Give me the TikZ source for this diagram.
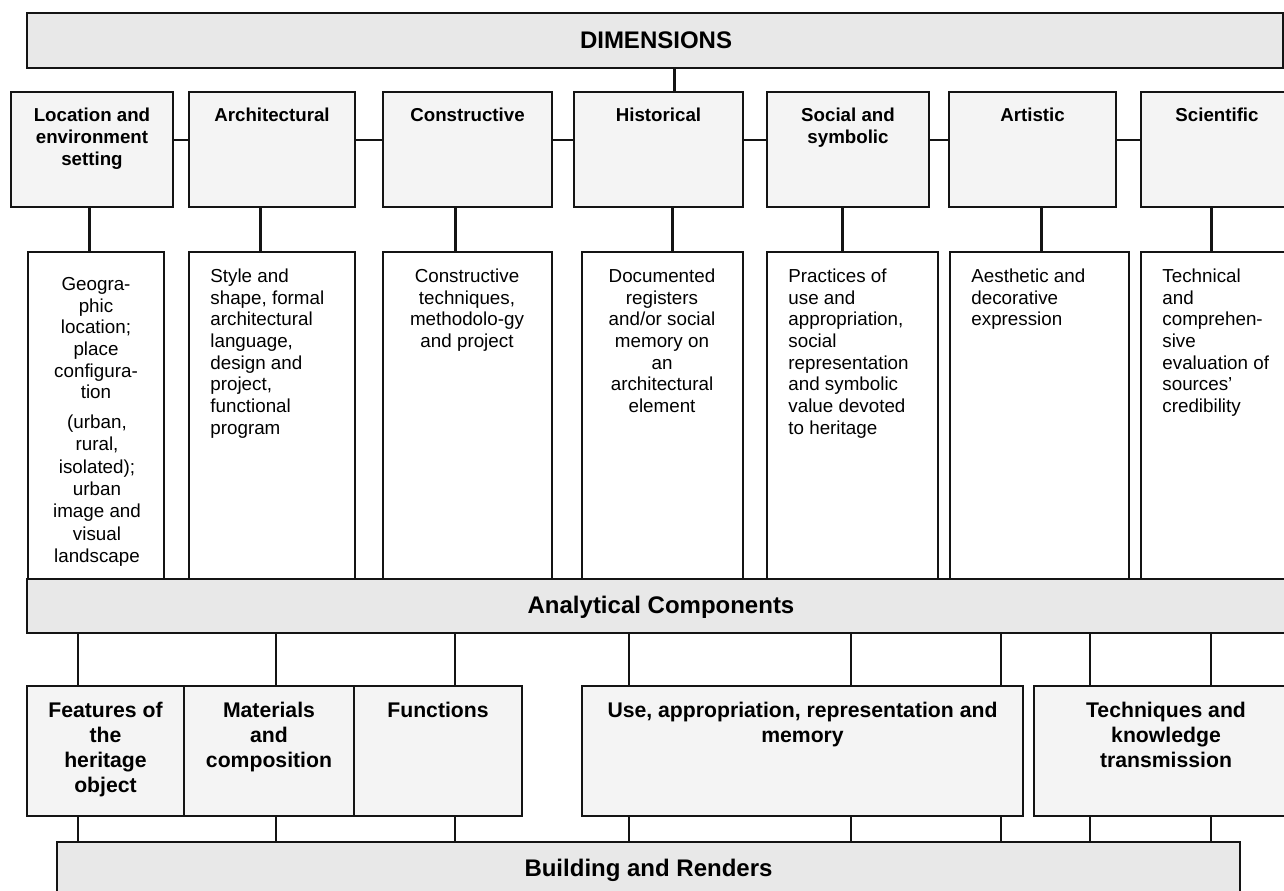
\documentclass[tikz,border=0pt]{standalone}
\usepackage{fontspec}
\setmainfont{Liberation Sans}
\usetikzlibrary{fit}
\definecolor{bandgray}{RGB}{232,232,232}
\definecolor{boxgray}{RGB}{244,244,244}
\definecolor{linecol}{RGB}{20,20,20}
\newcommand\mkbox[6]{\path (#2,#3) coordinate (#1-a) (#4,#5) coordinate (#1-b);
  \node[fit=(#1-a)(#1-b), inner sep=0pt, #6] (#1) {};}
\tikzset{
 band/.style={draw=linecol, line width=0.75pt, fill=bandgray},
 dimbox/.style={draw=linecol, line width=0.75pt, fill=boxgray},
 txtbox/.style={draw=linecol, line width=0.75pt, fill=white},
 lowbox/.style={draw=linecol, line width=0.75pt, fill=boxgray},
 bigtxt/.style={font=\bfseries\fontsize{12}{14}\selectfont, inner sep=0pt, anchor=base},
 dimtxt/.style={font=\bfseries\fontsize{9.35}{11}\selectfont, inner sep=0pt, align=center, anchor=north},
 bodyc/.style={font=\fontsize{9.4}{10.85}\selectfont, inner sep=0pt, align=center, anchor=north},
 bodycb/.style={font=\fontsize{9.4}{11.2}\selectfont, inner sep=0pt, align=center, anchor=north},
 bodyl/.style={font=\fontsize{9.4}{10.85}\selectfont, inner sep=0pt, align=left, anchor=north west},
 lowtxt/.style={font=\bfseries\fontsize{10.6}{12.5}\selectfont, inner sep=0pt, align=center, anchor=north},
 thickcon/.style={draw=linecol, line width=1.5pt},
 thincon/.style={draw=linecol, line width=0.6pt},
 midcon/.style={draw=linecol, line width=0.9pt},
}
\begin{document}
\begin{tikzpicture}[x=0.5pt,y=-0.5pt]
\useasboundingbox (0,0) rectangle (1284,890);
\clip (0,0) rectangle (1284,890);
% boxes
\mkbox{D}{27}{13}{1283}{68}{band}
\mkbox{D1}{11}{92}{173}{207}{dimbox}
\mkbox{D2}{189}{92}{355}{207}{dimbox}
\mkbox{D3}{383}{92}{552}{207}{dimbox}
\mkbox{D4}{574}{92}{743}{207}{dimbox}
\mkbox{D5}{767}{92}{929}{207}{dimbox}
\mkbox{D6}{949}{92}{1116}{207}{dimbox}
\mkbox{D7}{1141}{92}{1293}{207}{dimbox}
\mkbox{T1}{28}{252}{164}{579}{txtbox}
\mkbox{T2}{189}{252}{355}{579}{txtbox}
\mkbox{T3}{383}{252}{552}{579}{txtbox}
\mkbox{T4}{582}{252}{743}{579}{txtbox}
\mkbox{T5}{767}{252}{938}{579}{txtbox}
\mkbox{T6}{950}{252}{1129}{579}{txtbox}
\mkbox{T7}{1141}{252}{1293}{579}{txtbox}
\mkbox{A}{27}{579}{1293}{633}{band}
\mkbox{F}{27}{686}{184}{816}{lowbox}
\mkbox{M}{184}{686}{354}{816}{lowbox}
\mkbox{Fn}{354}{686}{522}{816}{lowbox}
\mkbox{U}{582}{686}{1023}{816}{lowbox}
\mkbox{Tq}{1034}{686}{1298}{816}{lowbox}
\mkbox{B}{57}{842}{1240}{910}{band}
% big labels
\node[bigtxt] (Dt) at (656,48.3) {DIMENSIONS};
\node[bigtxt] (At) at (661,613.3) {Analytical Components};
\node[bigtxt] (Bt) at (648.5,876) {Building and Renders};
% dimension labels
\node[dimtxt] (D1t) at (92,105.6) {\strut Location and\\environment\\setting};
\node[dimtxt] (D2t) at (272,105.6) {\strut Architectural};
\node[dimtxt] (D3t) at (467.5,105.6) {\strut Constructive};
\node[dimtxt] (D4t) at (658.5,105.6) {\strut Historical};
\node[dimtxt] (D5t) at (848,105.6) {\strut Social and\\symbolic};
\node[dimtxt] (D6t) at (1032.5,105.6) {\strut Artistic};
\node[dimtxt] (D7t) at (1217,105.6) {\strut Scientific};
% body texts
\node[bodyc] (T1a) at (96,274.8) {\strut Geogra-\\phic\\location;\\place\\configura-\\tion};
\node[bodycb] (T1b) at (97,412.3) {\strut (urban,\\rural,\\isolated);\\urban\\image and\\visual\\landscape};
\node[bodyl] (T2t) at (210,266.8) {\strut Style and\\shape, formal\\architectural\\language,\\design and\\project,\\functional\\program};
\node[bodyc] (T3t) at (467,266.8) {\strut Constructive\\techniques,\\methodolo-gy\\and project};
\node[bodyc] (T4t) at (662,266.8) {\strut Documented\\registers\\and/or social\\memory on\\an\\architectural\\element};
\node[bodyl] (T5t) at (788,266.8) {\strut Practices of\\use and\\appropriation,\\social\\representation\\and symbolic\\value devoted\\to heritage};
\node[bodyl] (T6t) at (971,266.8) {\strut Aesthetic and\\decorative\\expression};
\node[bodyl] (T7t) at (1162,266.8) {\strut Technical\\and\\comprehen-\\sive\\evaluation of\\sources’\\credibility};
% lower labels
\node[lowtxt] (Ft) at (105.5,699.5) {\strut Features of\\the\\heritage\\object};
\node[lowtxt] (Mt) at (269,699.5) {\strut Materials\\and\\composition};
\node[lowtxt] (Fnt) at (438,699.5) {\strut Functions};
\node[lowtxt] (Ut) at (802.5,699.5) {\strut Use, appropriation, representation and\\memory};
\node[lowtxt] (Tqt) at (1166,699.5) {\strut Techniques and\\knowledge\\transmission};
% connectors
\coordinate (xh) at (674,0);
\draw[thickcon] (D.south -| xh) -- (D4.north -| xh);
\coordinate (yh) at (0,140);
\foreach \a/\b in {D1/D2,D2/D3,D3/D4,D4/D5,D5/D6,D6/D7}
  \draw[thincon] (\a.east |- yh) -- (\b.west |- yh);
\foreach \k/\x in {1/89,2/260,3/455,4/672,5/842,6/1041,7/1211}{
  \coordinate (cx\k) at (\x,0);
  \draw[thickcon] (D\k.south -| cx\k) -- (T\k.north -| cx\k);
}
\foreach \n/\x/\t in {1/78/F,2/276/M,3/455/Fn,4/629/U,5/851/U,6/1001/U,7/1090/Tq,8/1211/Tq}{
  \coordinate (lx\n) at (\x,0);
  \draw[midcon] (A.south -| lx\n) -- (\t.north -| lx\n);
  \draw[midcon] (\t.south -| lx\n) -- (B.north -| lx\n);
}
\end{tikzpicture}
\end{document}
